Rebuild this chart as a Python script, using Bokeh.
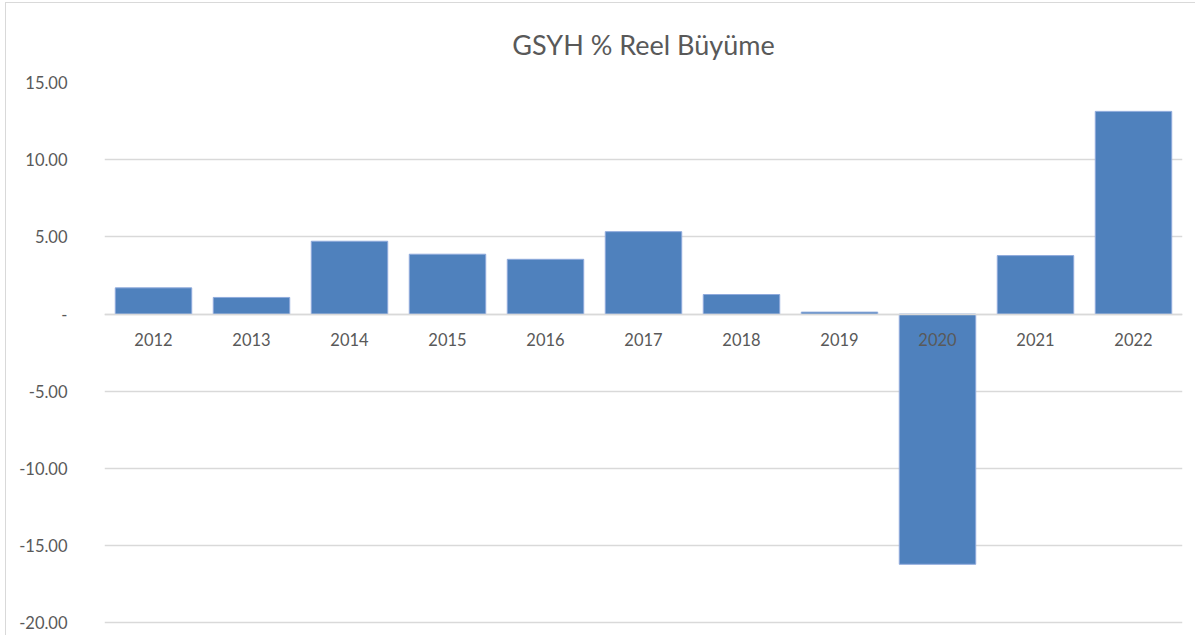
from bokeh.plotting import figure
from bokeh.models import ColumnDataSource, FixedTicker, NumeralTickFormatter, Range1d, FactorRange
from bokeh.embed import file_html
from bokeh.resources import INLINE

years = ["2012", "2013", "2014", "2015", "2016", "2017", "2018", "2019", "2020", "2021", "2022"]
growth = [1.70, 1.08, 4.72, 3.88, 3.55, 5.34, 1.27, 0.13, -16.2, 3.79, 13.13]
y_ticks = [-20, -15, -10, -5, 0, 5, 10, 15]
title_text = "GSYH % Reel Büyüme"

FONT = "Lato"
GRAY = "#595959"

src = ColumnDataSource(data=dict(year=years, val=growth))

p = figure(x_range=FactorRange(*years, range_padding=0), y_range=Range1d(-20.1, 15),
           width=1190, height=633, output_backend="svg", toolbar_location=None,
           title=title_text, min_border_left=98, min_border_right=14,
           min_border_top=79, min_border_bottom=12)

p.vbar(x="year", top="val", bottom=0, width=0.78, source=src,
       fill_color="#4F81BD", line_color="#8FAADC", line_width=1)

p.title.align = "center"
p.title.text_font = FONT
p.title.text_font_size = "27px"
p.title.text_font_style = "normal"
p.title.text_color = GRAY
p.title.standoff = 44

p.outline_line_color = None
p.xgrid.grid_line_color = None
p.ygrid.grid_line_color = "#d9d9d9"
p.ygrid.grid_line_width = 1.3

p.yaxis.ticker = FixedTicker(ticks=y_ticks)
p.yaxis.formatter = NumeralTickFormatter(format="0.00")
p.yaxis.major_label_overrides = {0: "-"}
p.yaxis.axis_line_color = None
p.yaxis.major_tick_line_color = None
p.yaxis.minor_tick_line_color = None
p.yaxis.major_label_standoff = 31
p.yaxis.major_label_text_font = FONT
p.yaxis.major_label_text_font_size = "16.5px"
p.yaxis.major_label_text_color = GRAY

p.xaxis.fixed_location = 0
p.xaxis.axis_line_color = "#d9d9d9"
p.xaxis.axis_line_width = 1.3
p.xaxis.major_tick_line_color = None
p.xaxis.minor_tick_line_color = None
p.xaxis.major_label_standoff = 13
p.xaxis.major_label_text_font = FONT
p.xaxis.major_label_text_font_size = "16.5px"
p.xaxis.major_label_text_color = GRAY

p.styles = {"margin-left": "5px", "margin-top": "2px",
            "border-top": "1px solid #d9d9d9", "border-left": "1px solid #d9d9d9"}

open("out.html", "w").write(file_html(p, INLINE))
